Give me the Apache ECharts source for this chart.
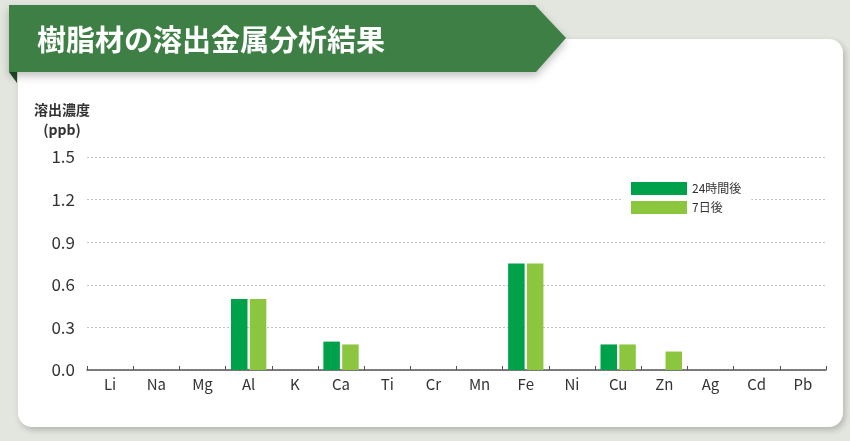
<!DOCTYPE html>
<html>
<head>
<meta charset="utf-8">
<style>
  html, body { margin: 0; padding: 0; background: #e3e6df; }
  #chart { width: 850px; height: 441px; }
</style>
<script src="https://cdn.jsdelivr.net/npm/echarts@6/dist/echarts.min.js"></script>
</head>
<body>
<div id="chart"></div>
<script>
// Metal elements measured
const elements = ['Li', 'Na', 'Mg', 'Al', 'K', 'Ca', 'Ti', 'Cr', 'Mn', 'Fe', 'Ni', 'Cu', 'Zn', 'Ag', 'Cd', 'Pb'];
// Dissolved concentration (ppb)
const after24h = [0, 0, 0, 0.50, 0, 0.20, 0, 0, 0, 0.75, 0, 0.18, 0, 0, 0, 0];
const after7d  = [0, 0, 0, 0.50, 0, 0.18, 0, 0, 0, 0.75, 0, 0.18, 0.13, 0, 0, 0];
const seriesNames = ['24時間後', '7日後'];
const yTicks = { min: 0, max: 1.5, interval: 0.3 };

const FONT = '"Noto Sans CJK JP", "Noto Sans", sans-serif';
const chart = echarts.init(document.getElementById('chart'), null, { renderer: 'canvas' });

chart.setOption({
  backgroundColor: '#e3e6df',
  animation: false,
  textStyle: { fontFamily: FONT },
  graphic: [
    // white card
    {
      type: 'rect', z: -10,
      shape: { x: 18, y: 39, width: 825, height: 388, r: 14 },
      style: { fill: '#ffffff', shadowColor: 'rgba(0,0,0,0.22)', shadowBlur: 6, shadowOffsetX: 2, shadowOffsetY: 3 }
    },
    // folded corner under banner
    {
      type: 'polygon', z: -9,
      shape: { points: [[9, 72], [17, 72], [17, 83]] },
      style: { fill: '#1f4d28' }
    },
    // title banner
    {
      type: 'polygon', z: -8,
      shape: { points: [[9, 5], [535, 5], [566, 38], [536, 72], [9, 72]] },
      style: { fill: '#3d7f45', shadowColor: 'rgba(0,0,0,0.25)', shadowBlur: 8, shadowOffsetY: 4 }
    },
    {
      type: 'text', z: 10,
      style: {
        text: '樹脂材の溶出金属分析結果', x: 37, y: 40,
        verticalAlign: 'middle', fill: '#ffffff',
        font: 'bold 29px "Noto Sans CJK JP", sans-serif'
      }
    },
    // y-axis unit label
    {
      type: 'text', z: 10,
      style: {
        text: '溶出濃度\n(ppb)', x: 62, y: 100, align: 'center',
        lineHeight: 20, fill: '#333333',
        font: 'bold 14px "Noto Sans CJK JP", sans-serif'
      }
    }
  ],
  legend: {
    data: seriesNames,
    orient: 'vertical',
    left: 622, top: 174,
    padding: [8, 10, 8, 9],
    backgroundColor: '#ffffff',
    itemWidth: 56, itemHeight: 13, itemGap: 6,
    icon: 'rect',
    textStyle: { fontSize: 12, color: '#333333', fontFamily: FONT }
  },
  grid: { left: 87, right: 24, top: 157, bottom: 71 },
  xAxis: {
    type: 'category',
    data: elements,
    axisLine: { lineStyle: { color: '#555555', width: 1.5 } },
    axisTick: { show: true, inside: true, length: 4, lineStyle: { color: '#555555', width: 1 } },
    axisLabel: { color: '#333333', fontSize: 15, margin: 7, fontFamily: FONT }
  },
  yAxis: {
    type: 'value',
    min: yTicks.min, max: yTicks.max, interval: yTicks.interval,
    axisLine: { show: false },
    axisTick: { show: false },
    axisLabel: { color: '#333333', fontSize: 17, margin: 12, fontFamily: FONT,
      formatter: v => v.toFixed(1) },
    splitLine: { lineStyle: { color: '#c2c2c2', type: [2, 2], width: 1 } }
  },
  series: [
    {
      name: seriesNames[0], type: 'bar', data: after24h,
      barWidth: 16.5, barGap: '14%',
      itemStyle: { color: '#00a14b' }
    },
    {
      name: seriesNames[1], type: 'bar', data: after7d,
      barWidth: 16.5, barGap: '14%',
      itemStyle: { color: '#8cc63f' }
    }
  ]
});
</script>
</body>
</html>
